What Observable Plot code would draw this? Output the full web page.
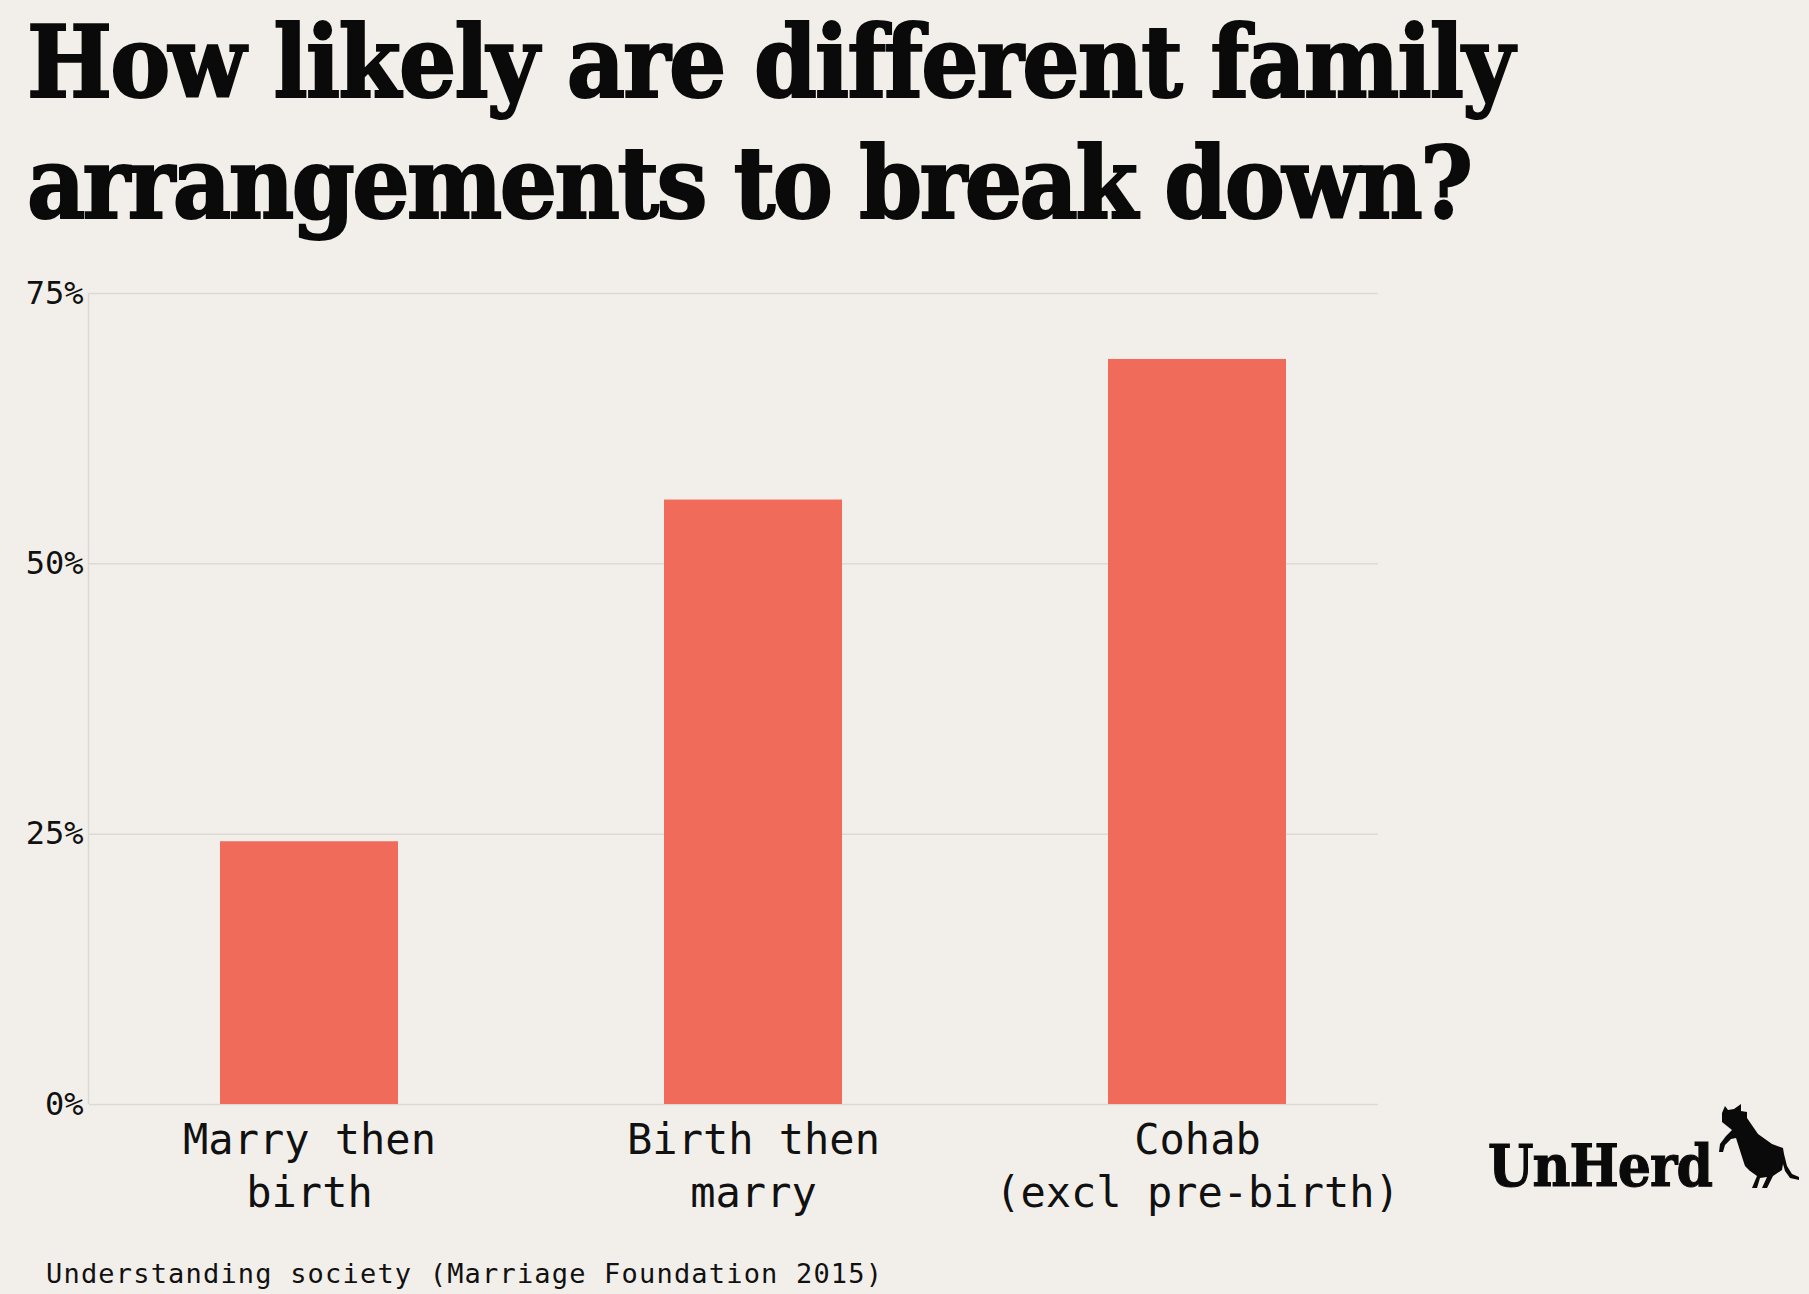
<!DOCTYPE html>
<html>
<head>
<meta charset="utf-8">
<script src="https://cdn.jsdelivr.net/npm/d3@7"></script>
<script src="https://cdn.jsdelivr.net/npm/@observablehq/plot@0.6"></script>
<style>
  html, body { margin: 0; padding: 0; background: #f2efea; }
  body { width: 1809px; height: 1294px; position: relative; overflow: hidden; }
  .title { position: absolute; left: 27px; top: 2px; font-family: "DejaVu Serif Condensed", "DejaVu Serif", serif; font-stretch: condensed; font-weight: bold; font-size: 100px; line-height: 121px; color: #0a0a0a; -webkit-text-stroke: 2px #0a0a0a; }
  .title span { display: inline-block; white-space: nowrap; }
  #chart { position: absolute; left: 0; top: 250px; }
  .footer { position: absolute; left: 46px; top: 1260px; font-family: "DejaVu Sans Mono", monospace; font-size: 27px; line-height: 1; color: #111; white-space: nowrap; }
  .logo { position: absolute; left: 1488px; top: 1137px; font-family: "DejaVu Serif Condensed", "DejaVu Serif", serif; font-stretch: condensed; font-weight: bold; font-size: 58px; line-height: 1; color: #0a0a0a; white-space: nowrap; -webkit-text-stroke: 1px #0a0a0a; }
  .cow { position: absolute; left: 1710px; top: 1100px; }
</style>
</head>
<body>
<div class="title"><span id="t1">How likely are different family</span><br><span id="t2">arrangements to break down?</span></div>
<div id="chart"></div>
<div class="footer" id="foot">Understanding society (Marriage Foundation 2015)</div>
<div class="logo" id="logo">UnHerd</div>
<svg class="cow" width="100" height="95" viewBox="0 0 100 95">
  <path fill="#0a0a0a" d="M12 22 L12 13 L15 6 L18 10 L24 9 L31 4 L31 11 L37 12 L37 18 L48 34 L62 44 L73 48 L74 54 L77 66 L82 74 L89 77 L89 80 L80 78 L75 71 L73 64 L72 70 L63 76 L57 88 L52 88 L57 77 L50 78 L47 88 L42 88 L47 76 L40 71 L35 66 L33 60 L26 38 L21 39 L15 45 L13 52 L9 52 L10 44 L16 36 L22 30 L17 26 Z"/>
</svg>
<script>
const categories = ["Marry then birth", "Birth then marry", "Cohab (excl pre-birth)"];
const tickLabels = ["Marry then\nbirth", "Birth then\nmarry", "Cohab\n(excl pre-birth)"];
const values = [24.3, 55.9, 68.9];
const yTicks = [0, 25, 50, 75];

const table = categories.map((c, i) => ({category: c, value: values[i]}));

function fit(id, target) {
  const el = document.getElementById(id);
  el.style.display = "inline-block";
  el.style.letterSpacing = "0px";
  const w = el.getBoundingClientRect().width;
  const n = el.textContent.length;
  el.style.letterSpacing = ((target - w) / (n - 1)) + "px";
}
fit("t1", 1484);
fit("t2", 1446);
fit("foot", 836);
fit("logo", 225);

const leftLine = (index, scales, values, dimensions) => {
  const ns = "http://www.w3.org/2000/svg";
  const l = document.createElementNS(ns, "line");
  l.setAttribute("x1", dimensions.marginLeft - 0.5);
  l.setAttribute("x2", dimensions.marginLeft - 0.5);
  l.setAttribute("y1", scales.y(75));
  l.setAttribute("y2", scales.y(0));
  l.setAttribute("stroke", "#dcdad5");
  l.setAttribute("stroke-width", 1.5);
  return l;
};

const chart = Plot.plot({
  width: 1809,
  height: 980,
  marginTop: 43,
  marginBottom: 126,
  marginLeft: 89,
  marginRight: 431,
  style: {background: "transparent", fontFamily: "'DejaVu Sans Mono', monospace", color: "#111"},
  x: {domain: categories, range: [86, 1419], paddingInner: 0.6, paddingOuter: 0.3, align: 0.5},
  y: {domain: [0, 75]},
  marks: [
    Plot.gridY(yTicks, {stroke: "#dcdad5", strokeOpacity: 1, strokeWidth: 1.5}),
    leftLine,
    Plot.barY(table, {x: "category", y: "value", fill: "#f06b5a"}),
    Plot.axisY(yTicks, {tickSize: 0, tickPadding: 6, tickFormat: d => d + "%", fontSize: 32, fill: "#111", label: null}),
    Plot.axisX({tickSize: 0, tickPadding: 12, tickFormat: d => tickLabels[categories.indexOf(d)], fontSize: 42, lineHeight: 1.26, fill: "#111", label: null})
  ]
});
document.getElementById("chart").appendChild(chart);
</script>
</body>
</html>
